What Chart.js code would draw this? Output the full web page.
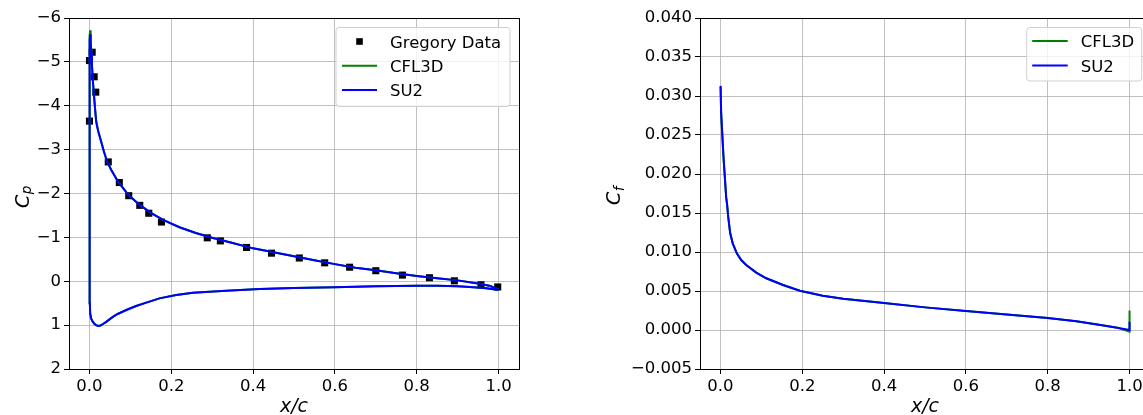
<!DOCTYPE html>
<html>
<head>
<meta charset="utf-8">
<script src="https://cdn.jsdelivr.net/npm/chart.js@4.4.0/dist/chart.umd.min.js"></script>
<style>
  html, body { margin:0; padding:0; background:#fff; overflow:hidden; width:1143px; height:415px; }
  #wrap { position:relative; width:1143px; height:415px; overflow:hidden; }
  canvas { position:absolute; top:0; }
  #c1 { left:0; }
  #c2 { left:600px; }
</style>
</head>
<body>
<div id="wrap">
  <canvas id="c1" width="540" height="415"></canvas>
  <canvas id="c2" width="560" height="415"></canvas>
</div>
<script>
// ---------- tick labels ----------
const xTicks  = [0.0, 0.2, 0.4, 0.6, 0.8, 1.0];
const cpTicks = [-6, -5, -4, -3, -2, -1, 0, 1, 2];
const cfTicks = [-0.005, 0.000, 0.005, 0.010, 0.015, 0.020, 0.025, 0.030, 0.035, 0.040];

// ---------- Gregory experimental data (Cp) ----------
const gregX  = [0.0, 0.0, 0.0066, 0.0115, 0.0154, 0.046, 0.073, 0.096, 0.123, 0.145, 0.176, 0.288, 0.32, 0.384, 0.445, 0.513, 0.575, 0.636, 0.70, 0.765, 0.831, 0.892, 0.957, 0.998];
const gregCp = [-3.65, -5.03, -5.22, -4.66, -4.31, -2.72, -2.25, -1.95, -1.73, -1.55, -1.35, -0.99, -0.92, -0.77, -0.64, -0.53, -0.42, -0.32, -0.24, -0.14, -0.08, -0.01, 0.08, 0.13];

// ---------- Cp curves (TE lower -> LE -> TE upper) ----------
const cpX = [1.0, 0.97, 0.93, 0.9, 0.85, 0.8, 0.7, 0.6, 0.5, 0.416, 0.334, 0.253, 0.212, 0.171, 0.139, 0.114, 0.09, 0.069, 0.059, 0.049, 0.041, 0.033, 0.027, 0.022, 0.016, 0.012, 0.008, 0.004, 0.0017, 0.001, 0.0007, 0.0004, 0.0002, 0.0,
             0.0003, 0.001, 0.0017, 0.003, 0.004, 0.006, 0.0085, 0.0105, 0.0135, 0.0164, 0.019, 0.022, 0.028, 0.0355, 0.0433, 0.053, 0.07, 0.096, 0.123, 0.15, 0.18, 0.22, 0.26, 0.3, 0.35, 0.4, 0.45, 0.5, 0.55, 0.6, 0.65, 0.7, 0.75, 0.8, 0.85, 0.9, 0.95, 0.98, 1.0];
const cpSU2 = [0.20, 0.16, 0.13, 0.115, 0.105, 0.105, 0.115, 0.135, 0.155, 0.177, 0.215, 0.26, 0.313, 0.39, 0.488, 0.564, 0.655, 0.746, 0.80, 0.87, 0.925, 0.975, 1.01, 1.02, 1.0, 0.97, 0.92, 0.85, 0.73, 0.5, 0.0, -1.0, -2.5, -3.5,
             -4.8, -5.5, -5.63, -5.45, -5.25, -4.93, -4.55, -4.31, -3.95, -3.65, -3.52, -3.4, -3.2, -2.95, -2.725, -2.54, -2.27, -1.96, -1.74, -1.56, -1.4, -1.23, -1.1, -0.99, -0.87, -0.75, -0.66, -0.57, -0.48, -0.39, -0.31, -0.25, -0.18, -0.12, -0.07, -0.02, 0.05, 0.11, 0.19];
const cpCFL3D = [0.20, 0.16, 0.13, 0.115, 0.105, 0.105, 0.115, 0.135, 0.155, 0.177, 0.215, 0.26, 0.313, 0.39, 0.488, 0.564, 0.655, 0.746, 0.80, 0.87, 0.925, 0.975, 1.01, 1.02, 1.0, 0.97, 0.92, 0.85, 0.73, 0.5, 0.0, -1.0, -2.5, -3.6,
             -4.9, -5.6, -5.72, -5.5, -5.27, -4.94, -4.56, -4.31, -3.95, -3.65, -3.52, -3.4, -3.2, -2.95, -2.725, -2.54, -2.27, -1.96, -1.74, -1.56, -1.4, -1.23, -1.1, -0.99, -0.87, -0.75, -0.66, -0.57, -0.48, -0.39, -0.31, -0.25, -0.18, -0.12, -0.07, -0.02, 0.05, 0.11, 0.19];

// ---------- Cf curves ----------
const cfX     = [0.0003, 0.0017, 0.0074, 0.014, 0.0164, 0.0189, 0.0238, 0.030, 0.040, 0.0507, 0.063, 0.0875, 0.112, 0.153, 0.194, 0.25, 0.3, 0.4, 0.5, 0.6, 0.7, 0.8, 0.87, 0.929, 0.97, 1.0, 1.0];
const cfSU2   = [0.0313, 0.0278, 0.0222, 0.0170, 0.0160, 0.01453, 0.0124, 0.01111, 0.00983, 0.00897, 0.00833, 0.00735, 0.00663, 0.00577, 0.00504, 0.0044, 0.0040, 0.00346, 0.0029, 0.00244, 0.0020, 0.00154, 0.00112, 0.00064, 0.0003, 0.0, 0.00107];
const cfCFL3D = [0.0312, 0.0278, 0.0222, 0.0170, 0.0160, 0.01453, 0.0124, 0.01111, 0.00983, 0.00897, 0.00833, 0.00735, 0.00663, 0.00577, 0.00504, 0.0044, 0.0040, 0.00346, 0.0029, 0.00244, 0.0020, 0.00154, 0.00112, 0.00064, 0.0003, -0.0002, 0.0025];

const FONT = 'DejaVu Sans';
const FS = 16.5;
const pts = (xs, ys) => xs.map((x, i) => ({ x: x, y: ys[i] }));
const minus = s => s.replace('-', '\u2212');

function framePlugin(opts) {
  return {
    id: 'frame_' + opts.id,
    afterDraw(chart) {
      const ctx = chart.ctx, a = chart.chartArea;
      ctx.save();
      ctx.strokeStyle = '#000';
      ctx.lineWidth = 1;
      ctx.strokeRect(a.left + 0.5, a.top + 0.5, a.right - a.left, a.bottom - a.top);
      const L = opts.legend;
      ctx.globalAlpha = 0.8;
      ctx.fillStyle = '#fff';
      ctx.beginPath();
      ctx.roundRect(L.x, L.y, L.w, L.h, 3);
      ctx.fill();
      ctx.globalAlpha = 1;
      ctx.strokeStyle = '#d0d0d0';
      ctx.lineWidth = 1;
      ctx.stroke();
      ctx.font = FS + 'px "' + FONT + '"';
      ctx.textAlign = 'left';
      ctx.textBaseline = 'alphabetic';
      L.items.forEach((it, i) => {
        const cy = L.y + L.first + i * L.step;
        if (it.type === 'marker') {
          ctx.fillStyle = it.color;
          ctx.fillRect(L.x + L.hx + L.hl / 2 - 3.3, cy - 3.3, 6.6, 6.6);
        } else {
          ctx.strokeStyle = it.color;
          ctx.lineWidth = 2;
          ctx.beginPath();
          ctx.moveTo(L.x + L.hx, cy);
          ctx.lineTo(L.x + L.hx + L.hl, cy);
          ctx.stroke();
        }
        ctx.fillStyle = '#000';
        ctx.fillText(it.text, L.x + L.tx, cy + 6);
      });
      const cx = (a.left + a.right) / 2;
      ctx.font = 'italic 19px "' + FONT + '"';
      ctx.textAlign = 'center';
      ctx.fillStyle = '#000';
      ctx.fillText('x/c', cx, 411.5);
      ctx.translate(opts.ylab.x, opts.ylab.y);
      ctx.rotate(-Math.PI / 2);
      ctx.textAlign = 'left';
      ctx.font = 'italic 19px "' + FONT + '"';
      ctx.fillText('C', 0, 0);
      const cw = ctx.measureText('C').width;
      ctx.font = 'italic 13.5px "' + FONT + '"';
      ctx.fillText(opts.ylab.sub, cw + 0.5, opts.ylab.dy);
      ctx.restore();
    }
  };
}

function scaleX() {
  return {
    type: 'linear', min: -0.05, max: 1.05,
    afterBuildTicks: s => { s.ticks = xTicks.map(v => ({ value: v })); },
    afterFit: s => { s.height = 46; },
    border: { display: false },
    grid: { color: '#b0b0b0', lineWidth: 0.8, tickColor: '#000', tickLength: 5, tickWidth: 1 },
    ticks: { color: '#000', font: { family: FONT, size: FS }, padding: 3, maxRotation: 0, autoSkip: false,
             callback: v => minus(Number(v).toFixed(1)) }
  };
}

const common = {
  animation: false, responsive: false, devicePixelRatio: 1,
  plugins: { legend: { display: false }, tooltip: { enabled: false } },
  elements: { line: { tension: 0 } }
};

new Chart(document.getElementById('c1'), {
  type: 'scatter',
  data: {
    datasets: [
      { label: 'Gregory Data', data: pts(gregX, gregCp), showLine: false, pointStyle: 'rect', pointRadius: 5,
        backgroundColor: '#000', borderColor: '#000', borderWidth: 0, order: 2 },
      { label: 'CFL3D', data: pts(cpX, cpCFL3D), showLine: true, borderColor: '#008000', borderWidth: 2,
        pointRadius: 0, fill: false, order: 1 },
      { label: 'SU2', data: pts(cpX, cpSU2), showLine: true, borderColor: '#0000ff', borderWidth: 2,
        pointRadius: 0, fill: false, order: 0 }
    ]
  },
  options: Object.assign({}, common, {
    layout: { padding: { top: 18, right: 21, left: 0, bottom: 0 } },
    scales: {
      x: scaleX(),
      y: {
        type: 'linear', min: -6, max: 2, reverse: true,
        afterBuildTicks: s => { s.ticks = cpTicks.map(v => ({ value: v })); },
        afterFit: s => { s.width = 69; },
        border: { display: false },
        grid: { color: '#b0b0b0', lineWidth: 0.8, tickColor: '#000', tickLength: 5, tickWidth: 1 },
        ticks: { color: '#000', font: { family: FONT, size: FS }, padding: 3, autoSkip: false,
                 callback: v => minus(String(Math.round(v))) }
      }
    }
  }),
  plugins: [framePlugin({
    id: 'cp',
    legend: { x: 336, y: 27.5, w: 174, h: 79, first: 14, step: 24.3, hx: 6, hl: 35, tx: 54,
      items: [
        { type: 'marker', color: '#000', text: 'Gregory Data' },
        { type: 'line', color: '#008000', text: 'CFL3D' },
        { type: 'line', color: '#0000ff', text: 'SU2' }
      ] },
    ylab: { x: 29, y: 208, sub: 'p', dy: 2 }
  })]
});

new Chart(document.getElementById('c2'), {
  type: 'scatter',
  data: {
    datasets: [
      { label: 'CFL3D', data: pts(cfX, cfCFL3D), showLine: true, borderColor: '#008000', borderWidth: 2,
        pointRadius: 0, fill: false, order: 1 },
      { label: 'SU2', data: pts(cfX, cfSU2), showLine: true, borderColor: '#0000ff', borderWidth: 2,
        pointRadius: 0, fill: false, order: 0 }
    ]
  },
  options: Object.assign({}, common, {
    layout: { padding: { top: 18, right: 10, left: 0, bottom: 0 } },
    scales: {
      x: scaleX(),
      y: {
        type: 'linear', min: -0.005, max: 0.040,
        afterBuildTicks: s => { s.ticks = cfTicks.map(v => ({ value: v })); },
        afterFit: s => { s.width = 100; },
        border: { display: false },
        grid: { color: '#b0b0b0', lineWidth: 0.8, tickColor: '#000', tickLength: 5, tickWidth: 1 },
        ticks: { color: '#000', font: { family: FONT, size: FS }, padding: 3, autoSkip: false,
                 callback: v => minus(Number(v).toFixed(3)) }
      }
    }
  }),
  plugins: [framePlugin({
    id: 'cf',
    legend: { x: 426.7, y: 27.5, w: 115, h: 53.5, first: 13.5, step: 24.5, hx: 5.5, hl: 35.5, tx: 54,
      items: [
        { type: 'line', color: '#008000', text: 'CFL3D' },
        { type: 'line', color: '#0000ff', text: 'SU2' }
      ] },
    ylab: { x: 19.5, y: 205, sub: 'f', dy: 4 }
  })]
});
</script>
</body>
</html>
